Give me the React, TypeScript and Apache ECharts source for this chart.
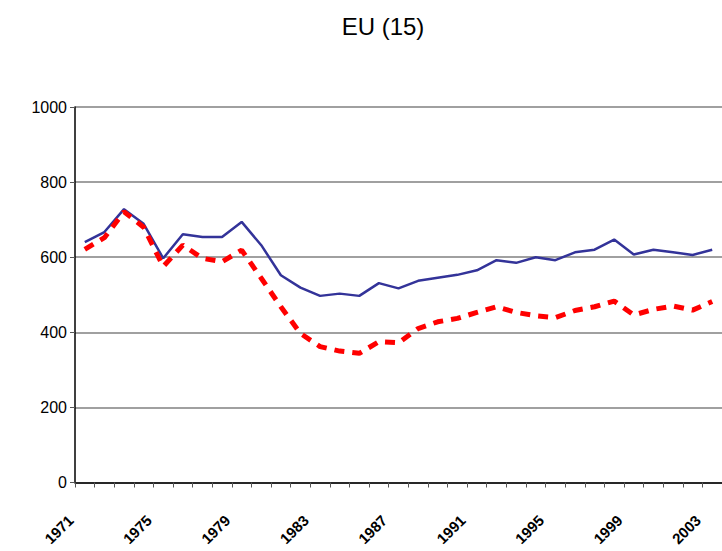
import React, { useEffect, useRef } from "react";
import * as echarts from "echarts";

const years: string[] = [];
for (let y = 1971; y <= 2003; y++) years.push(String(y));

const seriesBlue = [
  640, 667, 728, 689, 597, 661, 654, 654, 694, 632, 552, 519, 497, 503, 497, 531,
  517, 537, 545, 553, 565, 592, 585, 600, 592, 613, 620, 647, 607, 620, 613, 606, 620,
];
const seriesRed = [
  621, 652, 721, 680, 575, 632, 597, 588, 619, 544, 468, 397, 362, 350, 344, 375,
  372, 410, 428, 437, 453, 468, 453, 444, 439, 458, 468, 483, 446, 461, 470, 459, 482,
];
const yTicks = [0, 200, 400, 600, 800, 1000];

export default function App() {
  const ref = useRef<HTMLDivElement>(null);
  useEffect(() => {
    if (!ref.current) return;
    const chart = echarts.init(ref.current, undefined, { renderer: "svg" });
    chart.setOption({
      animation: false,
      backgroundColor: "#ffffff",
      title: {
        text: "EU (15)",
        left: 378,
        top: 9,
        textAlign: "center",
        textStyle: {
          fontFamily: "Liberation Sans, Arial, sans-serif",
          fontSize: 24,
          fontWeight: "normal",
          color: "#000",
        },
      },
      grid: { left: 75, top: 107, width: 653, height: 375.5 },
      xAxis: {
        type: "category",
        data: years,
        boundaryGap: true,
        axisLine: { lineStyle: { color: "#000", width: 1.5 } },
        axisTick: { show: true, interval: 0, length: 5, lineStyle: { color: "#555" } },
        axisLabel: {
          interval: 3,
          rotate: 45,
          margin: 21,
          formatter: (v: string) => `{a|${v}}`,
          rich: {
            a: {
              fontFamily: "Liberation Sans, Arial, sans-serif",
              fontSize: 15,
              fontWeight: "bold",
              color: "#000",
              padding: [0, 20, 0, 0],
            },
          },
        },
        splitLine: { show: false },
      },
      yAxis: {
        type: "value",
        min: yTicks[0],
        max: yTicks[yTicks.length - 1],
        interval: 200,
        axisLine: { show: true, lineStyle: { color: "#000", width: 1.5 } },
        axisTick: { show: true, length: 5, lineStyle: { color: "#555" } },
        axisLabel: {
          formatter: (v: number) => String(v),
          fontFamily: "Liberation Sans, Arial, sans-serif",
          fontSize: 16,
          color: "#000",
          margin: 8,
        },
        splitLine: { show: true, lineStyle: { color: "#808080", width: 1.5 } },
      },
      series: [
        {
          name: "blue",
          type: "line",
          data: seriesBlue,
          symbol: "none",
          lineStyle: { color: "#333399", width: 2.5 },
          z: 2,
        },
        {
          name: "red",
          type: "line",
          data: seriesRed,
          symbol: "none",
          lineStyle: { color: "#ff0000", width: 5, type: [10, 8], cap: "butt" },
          z: 3,
        },
      ],
    });
    return () => chart.dispose();
  }, []);
  return (
    <div
      ref={ref}
      style={{ position: "absolute", left: 0, top: 0, width: 722, height: 551 }}
    />
  );
}
